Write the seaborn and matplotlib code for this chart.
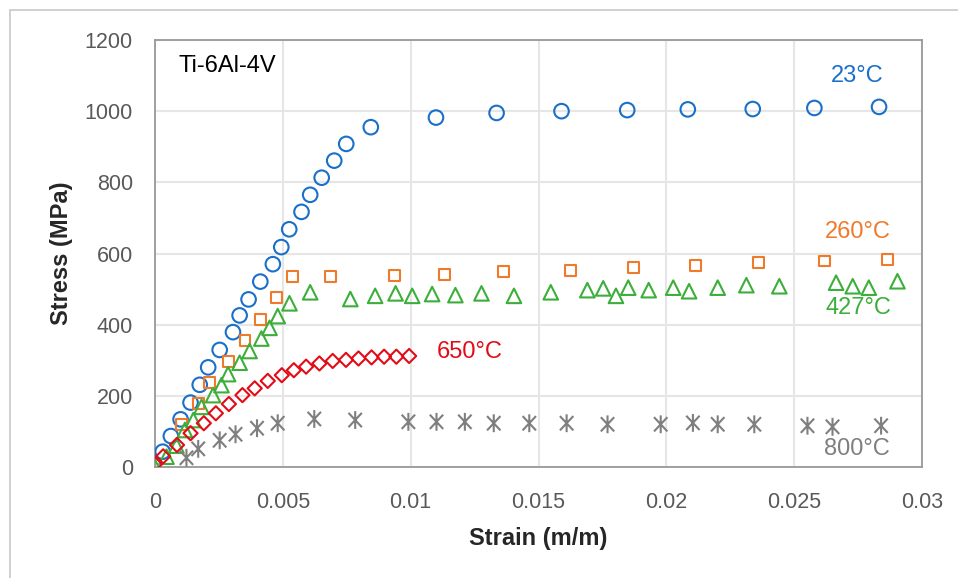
import numpy as np
import pandas as pd
import matplotlib
matplotlib.use("Agg")
import matplotlib.pyplot as plt
import seaborn as sns
from matplotlib.path import Path
from matplotlib.patches import Rectangle

# ------------------------------------------------------------
# data (strain in m/m, stress in MPa)
# ------------------------------------------------------------
strain_23 = [0.0003, 0.00062, 0.001, 0.00139, 0.00175, 0.00208, 0.00253, 0.00305,
             0.00331, 0.00366, 0.00412, 0.00461, 0.00494, 0.00525, 0.00573, 0.00607,
             0.00652, 0.00701, 0.00748, 0.00844, 0.01099, 0.01336, 0.0159, 0.01847,
             0.02084, 0.02338, 0.02579, 0.02832]
stress_23 = [43, 87, 134, 181, 231, 280, 329, 379, 426, 471, 521, 570, 618, 668,
             717, 765, 813, 861, 908, 955, 982, 995, 1000, 1003, 1005, 1006, 1009, 1012]

strain_260 = [0.00104, 0.00169, 0.00214, 0.00289, 0.00352, 0.00413, 0.00474, 0.00536,
              0.00688, 0.00935, 0.01134, 0.01364, 0.01625, 0.0187, 0.02113, 0.0236,
              0.02619, 0.02864]
stress_260 = [120, 179, 237, 296, 356, 415, 476, 536, 536, 538, 541, 549, 553, 561,
              566, 574, 579, 584]

strain_427 = [0, 0.00045, 0.00084, 0.00117, 0.0015, 0.00182, 0.00227, 0.0026, 0.00286,
              0.00331, 0.0037, 0.00416, 0.00448, 0.0048, 0.00526, 0.00607, 0.00764,
              0.00861, 0.00941, 0.01006, 0.01084, 0.01175, 0.01277, 0.01404, 0.01548,
              0.01691, 0.01753, 0.01803, 0.01851, 0.01931, 0.02027, 0.02089, 0.02201,
              0.02313, 0.02442, 0.02664, 0.02729, 0.02792, 0.02904]
stress_427 = [0, 29, 60, 104, 132, 169, 202, 230, 261, 293, 326, 361, 391, 424, 460,
              491, 472, 481, 488, 481, 486, 483, 488, 481, 491, 497, 502, 481, 504,
              497, 504, 494, 504, 511, 508, 518, 508, 504, 522]

strain_650 = [0, 0.00032, 0.00086, 0.00139, 0.00191, 0.00238, 0.00289, 0.00342, 0.0039,
              0.00441, 0.00496, 0.00543, 0.00591, 0.00643, 0.00695, 0.00747, 0.00796,
              0.00847, 0.00896, 0.00944, 0.00994]
stress_650 = [8, 30, 62, 95, 123, 151, 177, 202, 221, 242, 258, 272, 282, 291, 298,
              301, 305, 308, 310, 310, 312]

strain_800 = [0.00123, 0.00169, 0.00253, 0.00315, 0.00399, 0.0048, 0.00623, 0.00783,
              0.00991, 0.01101, 0.01212, 0.01325, 0.01464, 0.0161, 0.0177, 0.01978,
              0.02104, 0.02201, 0.02344, 0.02552, 0.0265, 0.0284]
stress_800 = [26, 51, 75, 92, 109, 123, 135, 132, 127, 127, 127, 123, 123, 123, 120,
              120, 124, 120, 120, 116, 113, 116]

labels = ["23°C", "260°C", "427°C", "650°C", "800°C"]
colors = ["#1a6fc9", "#f07a2c", "#3cae3a", "#e30b17", "#7f7f7f"]

x_ticks = [0, 0.005, 0.01, 0.015, 0.02, 0.025, 0.03]
x_tick_labels = ["0", "0.005", "0.01", "0.015", "0.02", "0.025", "0.03"]
y_ticks = [0, 200, 400, 600, 800, 1000, 1200]

# six-armed asterisk like the spreadsheet marker
asterisk = Path(
    [(0, -1), (0, 1), (-0.75, -0.8), (0.75, 0.8), (-0.75, 0.8), (0.75, -0.8)],
    [Path.MOVETO, Path.LINETO, Path.MOVETO, Path.LINETO, Path.MOVETO, Path.LINETO],
)

series = [
    (strain_23, stress_23, "o", 110),
    (strain_260, stress_260, "s", 62),
    (strain_427, stress_427, "^", 110),
    (strain_650, stress_650, "D", 52),
    (strain_800, stress_800, asterisk, 165),
]

sns.set_style("white")
plt.rcParams["font.family"] = ["Liberation Sans", "DejaVu Sans"]

fig = plt.figure(figsize=(9.58, 5.78), dpi=100)
ax = fig.add_axes([155 / 958, 1 - 467 / 578, 767 / 958, 427 / 578])

for (xs, ys, mk, size), col in zip(series, colors):
    sns.scatterplot(
        x=xs, y=ys, marker=mk, s=size,
        facecolors="none", edgecolor=col, linewidth=1.5,
        ax=ax, zorder=3,
    )

ax.set_xlim(0, 0.03)
ax.set_ylim(0, 1200)
ax.set_xticks(x_ticks)
ax.set_xticklabels(x_tick_labels)
ax.set_yticks(y_ticks)
ax.grid(True, color="#e6e6e6", linewidth=1.5, zorder=0)
ax.set_axisbelow(True)
ax.tick_params(axis="both", length=0, labelsize=15.5, labelcolor="#595959")
ax.tick_params(axis="y", pad=16)
ax.tick_params(axis="x", pad=18)

for sp in ax.spines.values():
    sp.set_visible(True)
    sp.set_color("#999999")
    sp.set_linewidth(1.3)

ax.set_xlabel("Strain (m/m)", fontsize=17, fontweight="bold")
ax.set_ylabel("Stress (MPa)", fontsize=17, fontweight="bold")
ax.xaxis.label.set_va("center")
ax.yaxis.label.set_va("center")
ax.xaxis.set_label_coords(0.5, -72 / 427)
ax.yaxis.set_label_coords(-93 / 767, 0.5)

# curve labels
ax.text(0.00284, 1127, "Ti-6Al-4V", fontsize=17, color="black", ha="center", va="center")
label_pos = [(0.02745, 1099), (0.02748, 660), (0.02752, 447), (0.01231, 323), (0.02747, 51)]
for (tx, ty), lab, col in zip(label_pos, labels, colors):
    ax.text(tx, ty, lab, fontsize=17, color=col, ha="center", va="center")

# outer chart frame
fig.patches.append(Rectangle(
    (10 / 958, -0.5), 2, 0.5 + (1 - 10 / 578),
    transform=fig.transFigure, fill=False, edgecolor="#c8c8c8", linewidth=1.2,
))

fig.savefig("out.png", dpi=100)
